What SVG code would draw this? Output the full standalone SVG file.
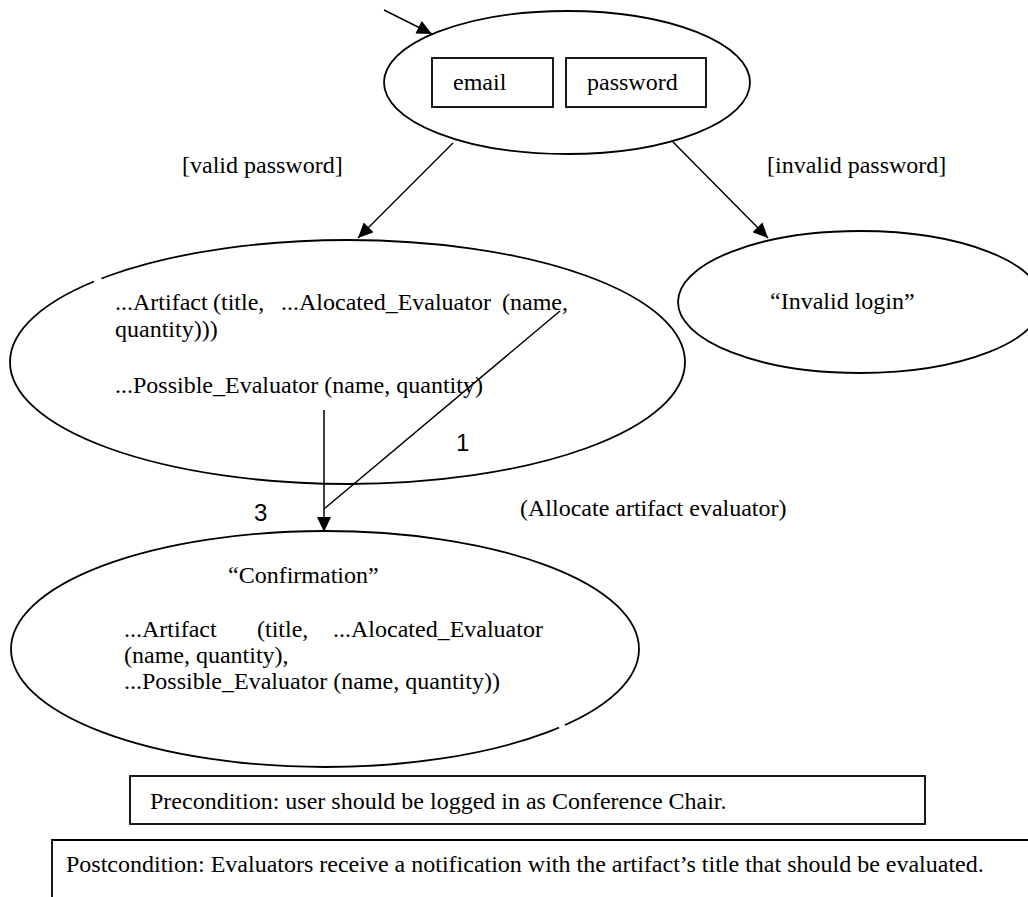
<svg xmlns="http://www.w3.org/2000/svg" width="1028" height="897" viewBox="0 0 1028 897">
<defs>
<marker id="ah" markerUnits="userSpaceOnUse" markerWidth="16" markerHeight="14" refX="15" refY="7" orient="auto">
<path d="M0,0 L15,7 L0,14 z" fill="#000"/>
</marker>
</defs>
<style>
.t{font-family:"Liberation Serif","Times New Roman",serif;font-size:24px;fill:#000}
.n{font-family:"Liberation Sans",Arial,sans-serif;font-size:24px;fill:#000}
.s{fill:none;stroke:#000;stroke-width:1.8}
.b{fill:#fff;stroke:#000;stroke-width:1.8}
.c{fill:none;stroke:#000;stroke-width:1.5}
.gap{fill:none;stroke:#fff;stroke-width:4}
</style>
<rect width="1028" height="897" fill="#fff"/>
<g id="connectors">
<line class="c" x1="384" y1="10" x2="432" y2="34" marker-end="url(#ah)"/>
<line class="c" x1="453" y1="143" x2="358" y2="238" marker-end="url(#ah)"/>
<line class="c" x1="673" y1="142" x2="768" y2="238" marker-end="url(#ah)"/>
<line class="c" x1="324" y1="410" x2="324" y2="532" marker-end="url(#ah)"/>
<line class="c" x1="560" y1="311" x2="324" y2="509"/>
<text class="t" x="182" y="173">[valid password]</text>
<text class="t" x="767" y="173">[invalid password]</text>
<text class="n" x="456" y="451">1</text>
<text class="n" x="254" y="521">3</text>
<text class="t" x="520" y="516">(Allocate artifact evaluator)</text>
</g>
<g id="login">
<ellipse class="s" cx="567" cy="82.5" rx="183" ry="71.5"/>
<rect class="b" x="432" y="58" width="121" height="49"/>
<rect class="b" x="566" y="58" width="140" height="49"/>
<text class="t" x="453" y="90">email</text>
<text class="t" x="587" y="90">password</text>
</g>
<g id="allocate">
<ellipse class="s" cx="347.5" cy="362" rx="337.5" ry="122"/>
<line class="gap" x1="94" y1="281.6" x2="101" y2="277.6"/>
<text class="t" y="310"><tspan x="115">...Artifact</tspan><tspan x="213">(title,</tspan><tspan x="281">...Alocated_Evaluator</tspan><tspan x="502">(name,</tspan></text>
<text class="t" x="115" y="337">quantity)))</text>
<text class="t" x="115" y="393">...Possible_Evaluator (name, quantity)</text>
</g>
<g id="invalid">
<ellipse class="s" cx="860" cy="302" rx="182" ry="71"/>
<text class="t" x="770" y="309">“Invalid login”</text>
</g>
<g id="confirmation">
<ellipse class="s" cx="325" cy="649" rx="314" ry="118"/>
<line class="gap" x1="559" y1="727.6" x2="565" y2="725"/>
<text class="t" x="228" y="583">“Confirmation”</text>
<text class="t" y="637"><tspan x="124">...Artifact</tspan><tspan x="257">(title,</tspan><tspan x="333">...Alocated_Evaluator</tspan></text>
<text class="t" x="124" y="663">(name, quantity),</text>
<text class="t" x="124" y="689">...Possible_Evaluator (name, quantity))</text>
</g>
<g id="precondition">
<rect class="s" x="130" y="776" width="795" height="48"/>
<text class="t" x="150" y="809">Precondition: user should be logged in as Conference Chair.</text>
</g>
<g id="postcondition">
<path class="s" d="M52,897 V840 H1028"/>
<text class="t" x="66" y="872">Postcondition: Evaluators receive a notification with the artifact’s title that should be evaluated.</text>
</g>
</svg>
